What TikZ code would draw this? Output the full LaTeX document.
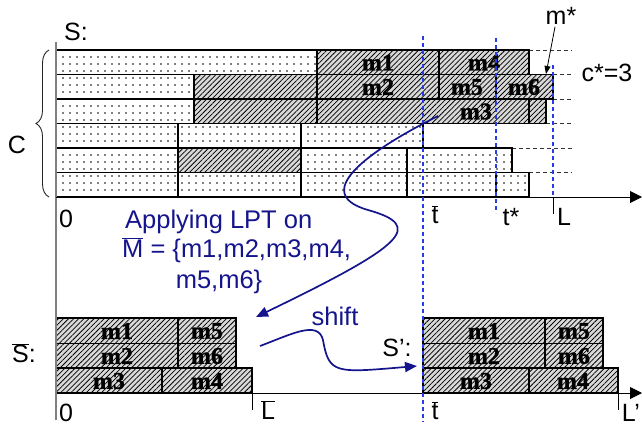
\documentclass[tikz,border=0pt]{standalone}
\usepackage{fontspec}
\setmainfont{Liberation Sans}
\newfontfamily\lblfont{Liberation Serif}[BoldFont={Liberation Serif Bold},BoldFeatures={FakeBold=1.2}]
\usetikzlibrary{patterns.meta,arrows.meta,decorations.pathreplacing}
\definecolor{navy}{RGB}{20,20,140}
\definecolor{dashblue}{RGB}{40,60,230}
\newcommand\ob[1]{$\overline{\mbox{#1}}$}
\begin{document}
\begin{tikzpicture}[x=1pt,y=-1pt,
 dotbx/.style={draw=black,line width=1.4pt,preaction={fill=white},pattern={Dots[distance=7pt,radius=0.8pt]},pattern color=black},
 hatbx/.style={draw=black,line width=1.4pt,preaction={fill=gray!30},pattern={Lines[angle=45,distance=3.6pt,line width=0.75pt]},pattern color=black},
 lbl/.style={font=\lblfont\bfseries\fontsize{24}{24}\selectfont,inner sep=0pt},
 txt/.style={font=\fontsize{25}{25}\selectfont,inner sep=0pt},
 btxt/.style={font=\fontsize{25.5}{25.5}\selectfont,text=navy,inner sep=0pt},
 vline/.style={dashblue,line width=1.2pt,dash pattern=on 4pt off 3pt},
 hline/.style={black!80,line width=0.8pt,dash pattern=on 4pt off 3pt},
 barrow/.style={navy,line width=1.7pt,-{Triangle[length=12pt,width=10pt]}},
 axis/.style={black,line width=1pt,-{Triangle[length=12pt,width=12pt]}},
 tick/.style={black,line width=1pt}
]
\useasboundingbox (0,0) rectangle (642,428);

% dashed level lines
\draw[hline] (529,50) -- (572,50);
\draw[hline] (553,74.5) -- (572,74.5);
\draw[hline] (553,99) -- (572,99);
\draw[hline] (546,123.5) -- (572,123.5);
\draw[hline] (512,148) -- (572,148);
\draw[hline] (529,172.5) -- (572,172.5);

% top schedule S
% row 1
\draw[dotbx] (56,50) rectangle (317,74.5);
\draw[hatbx] (317,50) rectangle (439,74.5);
\draw[hatbx] (439,50) rectangle (529,74.5);
% row 2
\draw[dotbx] (56,74.5) rectangle (194,99);
\draw[hatbx] (194,74.5) rectangle (317,99);
\draw[hatbx] (317,74.5) rectangle (439,99);
\draw[hatbx] (439,74.5) rectangle (496,99);
\draw[hatbx] (496,74.5) rectangle (553,99);
% row 3
\draw[dotbx] (56,99) rectangle (194,123.5);
\draw[hatbx] (194,99) rectangle (317,123.5);
\draw[hatbx] (317,99) rectangle (529,123.5);
\draw[hatbx] (529,99) rectangle (546,123.5);
% row 4
\draw[dotbx] (56,123.5) rectangle (178,148);
\draw[dotbx] (178,123.5) rectangle (301,148);
\draw[dotbx] (301,123.5) rectangle (423,148);
% row 5
\draw[dotbx] (56,148) rectangle (178,172.5);
\draw[hatbx] (178,148) rectangle (301,172.5);
\draw[dotbx] (301,148) rectangle (407,172.5);
\draw[dotbx] (407,148) rectangle (512,172.5);
% row 6
\draw[dotbx] (56,172.5) rectangle (178,197);
\draw[dotbx] (178,172.5) rectangle (301,197);
\draw[dotbx] (301,172.5) rectangle (407,197);
\draw[dotbx] (407,172.5) rectangle (496,197);
\draw[dotbx] (496,172.5) rectangle (529,197);

\node[lbl] (tm1) at (378,62.5) {m1};
\node[lbl] (tm4) at (484,62.5) {m4};
\node[lbl] (tm2) at (378,87) {m2};
\node[lbl] (tm5) at (467,87) {m5};
\node[lbl] (tm6) at (524,87) {m6};
\node[lbl] (tm3) at (476,111.5) {m3};

% bottom-left schedule
\draw[hatbx] (56,318) rectangle (178,343.5);
\draw[hatbx] (178,318) rectangle (236,343.5);
\draw[hatbx] (56,343.5) rectangle (178,368);
\draw[hatbx] (178,343.5) rectangle (236,368);
\draw[hatbx] (56,368) rectangle (162,393);
\draw[hatbx] (162,368) rectangle (252,393);
\node[lbl] (am1) at (117,331) {m1};
\node[lbl] (am5) at (207,331) {m5};
\node[lbl] (am2) at (117,356) {m2};
\node[lbl] (am6) at (207,356) {m6};
\node[lbl] (am3) at (109,381) {m3};
\node[lbl] (am4) at (207,381) {m4};

% bottom-right schedule
\draw[hatbx] (423,318) rectangle (545,343.5);
\draw[hatbx] (545,318) rectangle (603,343.5);
\draw[hatbx] (423,343.5) rectangle (545,368);
\draw[hatbx] (545,343.5) rectangle (603,368);
\draw[hatbx] (423,368) rectangle (529,393);
\draw[hatbx] (529,368) rectangle (618,393);
\node[lbl] (bm1) at (484,331) {m1};
\node[lbl] (bm5) at (574,331) {m5};
\node[lbl] (bm2) at (484,356) {m2};
\node[lbl] (bm6) at (574,356) {m6};
\node[lbl] (bm3) at (476,381) {m3};
\node[lbl] (bm4) at (573,381) {m4};

% axes
\draw[gray,line width=1.2pt] (56,42) -- (56,420);
\draw[axis] (56,197) -- (642,197);
\draw[axis] (252,393) -- (642,393);
\draw[tick] (553,197) -- (553,214);
\draw[tick] (252,393) -- (252,410);
\draw[tick] (618,393) -- (618,410);

% blue dashed verticals
\draw[vline] (423,36) -- (423,422);
\draw[vline] (496,38) -- (496,213);
\draw[vline] (553,65) -- (553,197);

% brace
\draw[decorate,decoration={brace,amplitude=13pt},line width=0.9pt,black!85] (49,197) -- (49,50);

% labels
\node[txt] (S) at (76,32) {S:};
\node[txt] (C) at (17,145) {C};
\node[txt] (zero1) at (66,219) {0};
\node[txt] (tbar1) at (435,215) {\ob{t}};
\node[txt] (tstar) at (511,217) {t*};
\node[txt] (L) at (564,217) {L};
\node[txt] (mstar) at (561,16) {m*};
\node[txt] (cstar) at (607,73) {c*=3};
\node[txt] (Sbar) at (24,353) {\ob{S}:};
\node[txt] (Sp) at (397,348) {S':};
\node[txt] (zero2) at (66,413) {0};
\node[txt] (Lbar) at (268,410) {\ob{L}};
\node[txt] (tbar2) at (435,411) {\ob{t}};
\node[txt] (Lp) at (631,413) {L'};

\node[btxt,anchor=base west] (lpt1) at (125,228) {Applying LPT on};
\node[btxt,anchor=base west] (lpt2) at (122,257) {\ob{M} = \{m1,m2,m3,m4,};
\node[btxt,anchor=base] (lpt3) at (219,288) {m5,m6\}};
\node[btxt] (shift) at (335,316) {shift};

% m* arrow
\coordinate (mstarend) at (546,74);
\draw[black,line width=0.8pt,-{Triangle[length=8pt,width=6pt]}] (mstar.south) ++(-6,2) -- (mstarend);

% curved blue arrows
\coordinate (c1s) at (438,116);
\coordinate (c1e) at (256,317);
\draw[barrow] (c1s) .. controls (380,145) and (305,192) .. (368,210) .. controls (425,226) and (405,245) .. (c1e);
\coordinate (c2s) at (260,346);
\coordinate (c2e) at (417,366);
\draw[barrow] (c2s) .. controls (292,334) and (318,320) .. (323,340) .. controls (329,374) and (335,373) .. (c2e);
\end{tikzpicture}
\end{document}
